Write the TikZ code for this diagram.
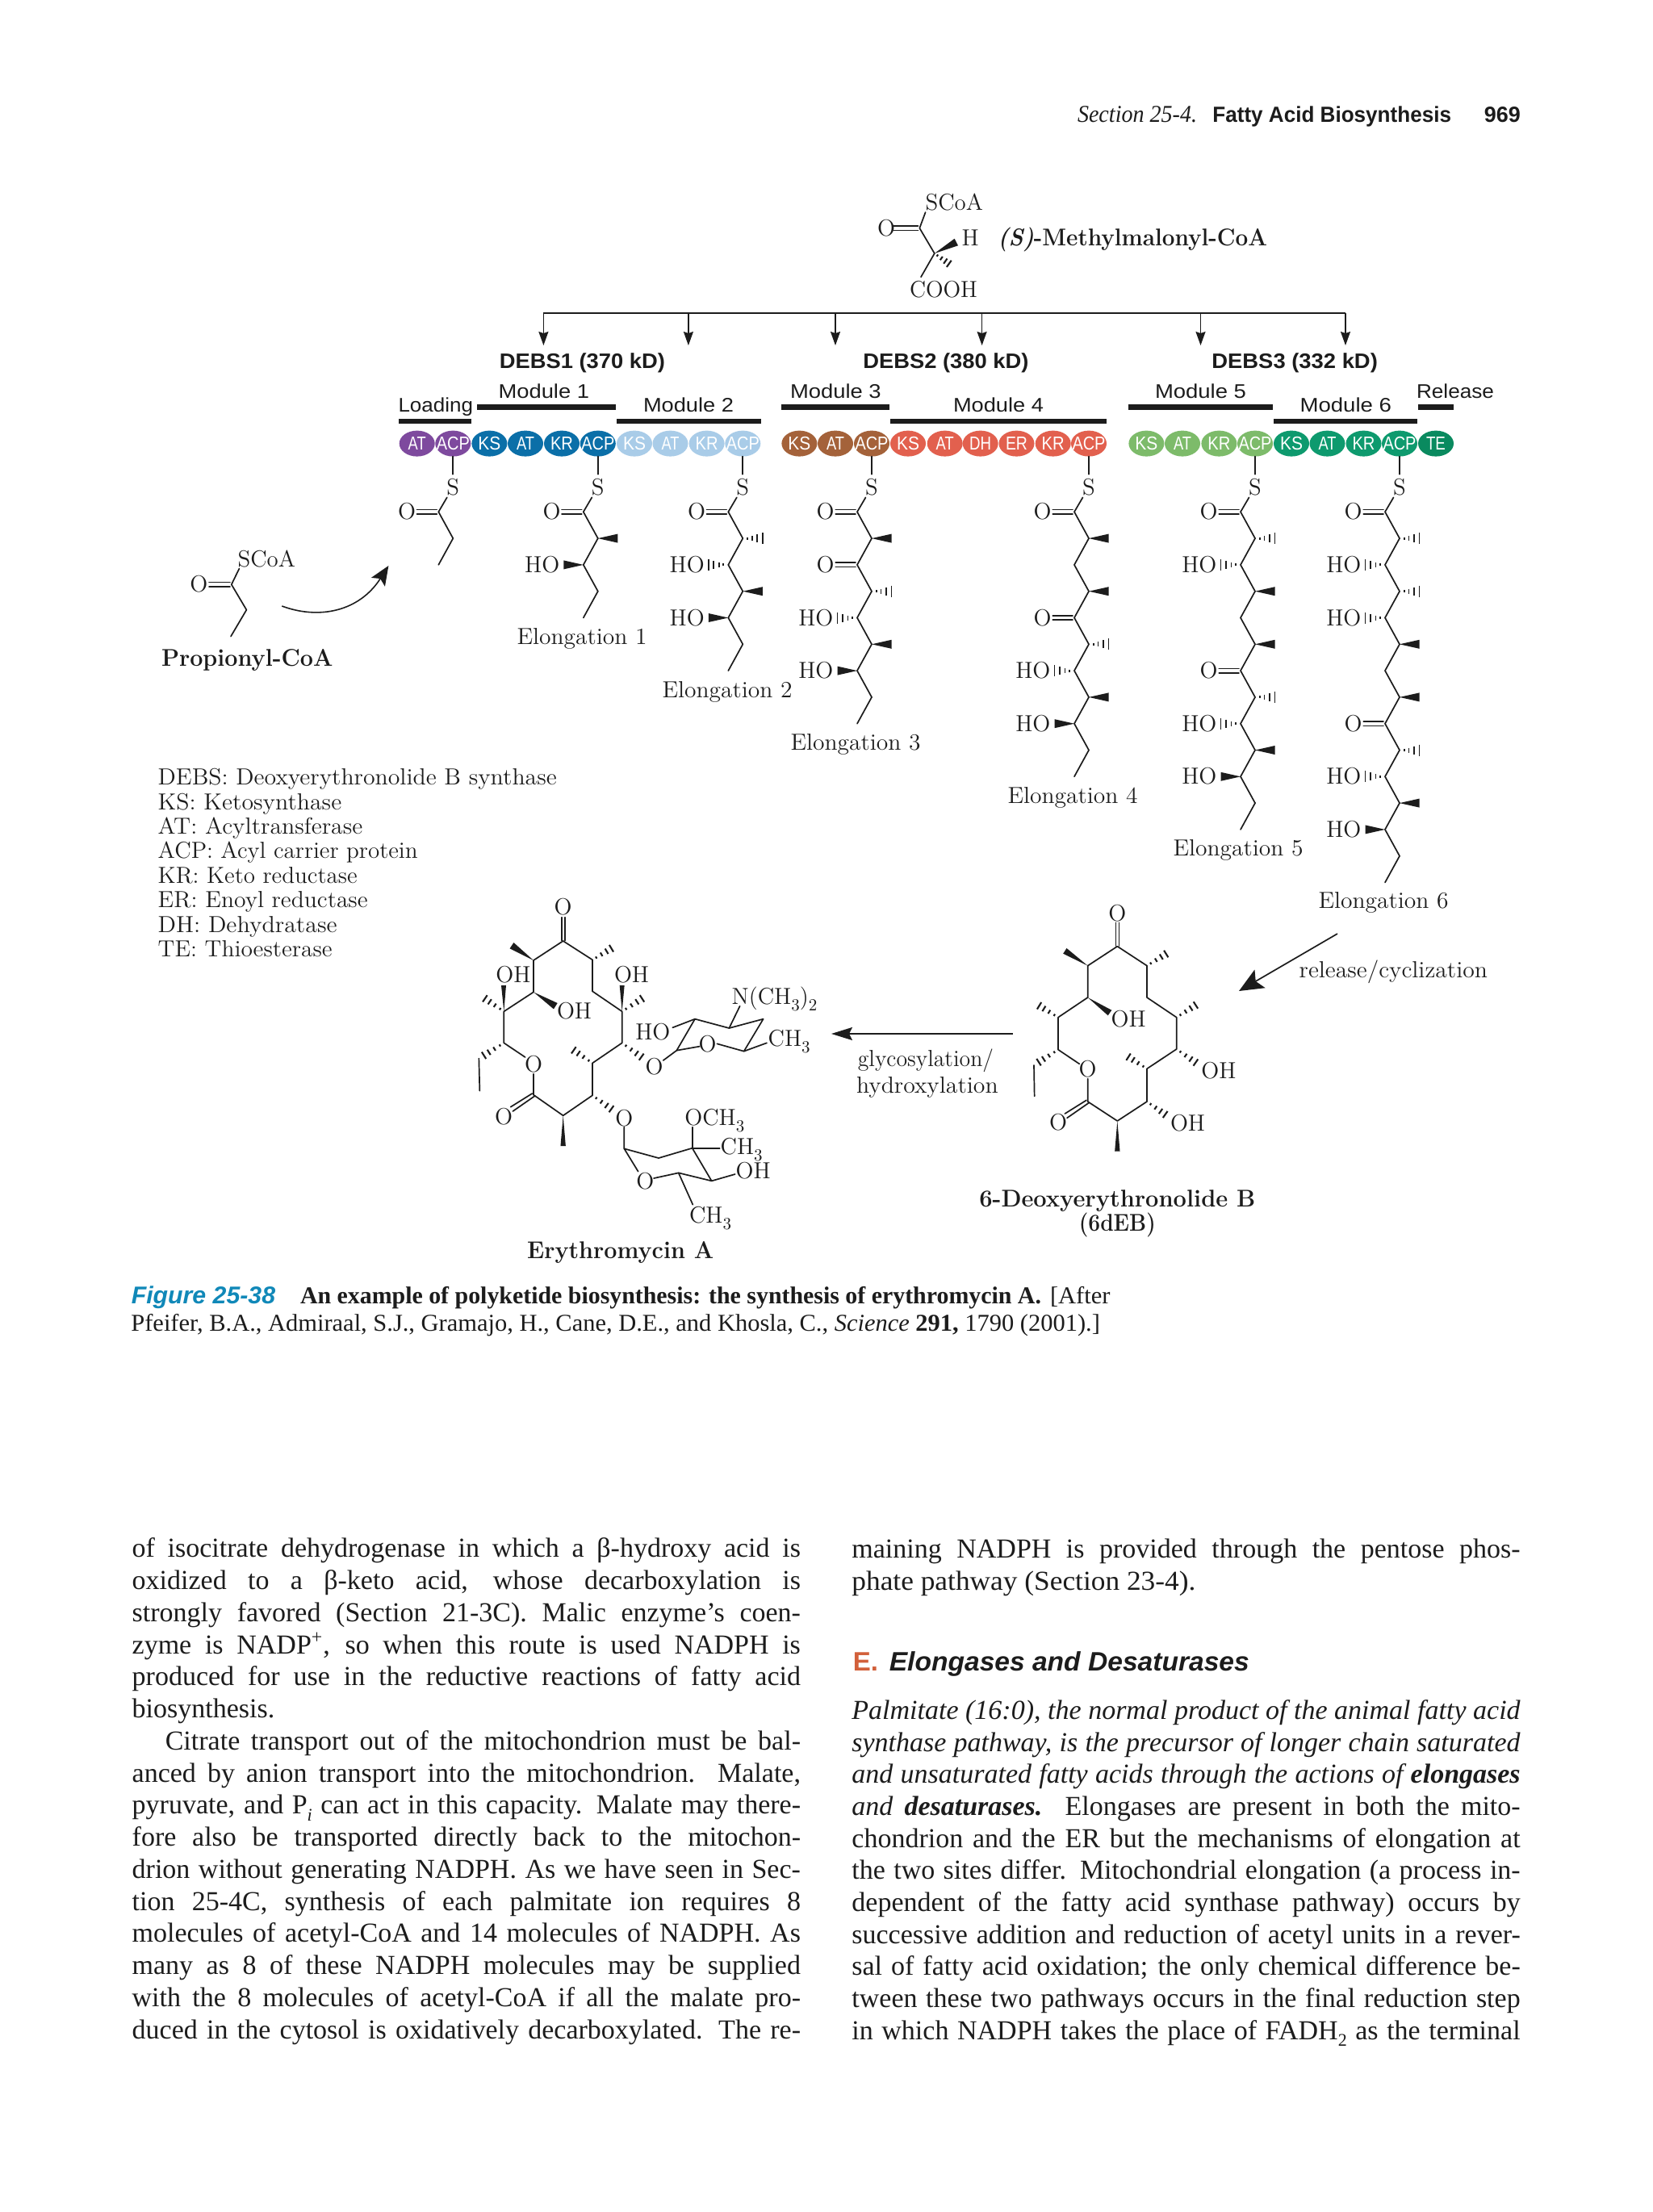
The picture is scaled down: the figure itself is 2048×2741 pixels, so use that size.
\documentclass[tikz,border=0pt]{standalone}
\usepackage{fontspec}
\usepackage{graphicx}
\usetikzlibrary{arrows.meta,calc,shapes.geometric}
\newfontfamily\bodyf{Liberation Serif}
\newfontfamily\sansf{Liberation Sans}
\definecolor{ink}{HTML}{1C1C1C}
\definecolor{pur}{HTML}{7E4A9E}
\definecolor{dblue}{HTML}{0B6FA8}
\definecolor{lblue}{HTML}{A9CCE8}
\definecolor{brn}{HTML}{A4623A}
\definecolor{cor}{HTML}{E2604E}
\definecolor{lgrn}{HTML}{7DBB6A}
\definecolor{dgrn}{HTML}{0E9A6E}
\definecolor{tegrn}{HTML}{0A8A5F}
\definecolor{figblue}{HTML}{1088B8}
\definecolor{headE}{HTML}{D2603A}
\newdimen\pxu \pxu=.5pt
\newsavebox\tmpb
\newcommand\fitw[2]{\resizebox{#1\pxu}{\height}{#2}}
\newcommand\jline[2]{\sbox\tmpb{#2}\ifdim\wd\tmpb<#1\pxu\relax\hbox to #1\pxu{#2}\else\resizebox{#1\pxu}{\height}{\usebox\tmpb}\fi}
\newcommand\sbt[1]{\raisebox{-.28em}{\fontsize{10.5}{12}\selectfont #1}}
\newcommand\bfl{\fontsize{15}{18}\selectfont\bfseries}
\newcounter{tn}
% text helpers: anchor, x, y, text
\newcommand\Tx[4][base west]{\stepcounter{tn}\node[txt,anchor=#1] (t\arabic{tn}) at (#2,#3) {#4};}
\newcommand\Ts[4][base west]{\stepcounter{tn}\node[stxt,anchor=#1] (t\arabic{tn}) at (#2,#3) {#4};}
\newcommand\Lb[2]{\stepcounter{tn}\node[btxt,anchor=base west] (t\arabic{tn}) at (163.7,#1) {\jline{828.3}{#2}};}
\newcommand\Lc[2]{\stepcounter{tn}\node[btxt,anchor=base west] (t\arabic{tn}) at (1055.4,#1) {\jline{828.3}{#2}};}
% bonds
\newcommand\wedgeb[3]{\fill[ink] #1 -- ($#2!#3!90:#1$) -- ($#2!#3!-90:#1$) -- cycle;}
\newcommand\hashb[2]{\foreach \tv/\wv in {.16/.7pt,.38/1.3pt,.6/1.9pt,.8/2.5pt,1/3.1pt}{\draw[hashring] ($#1!\tv!#2!\wv!90:#2$) -- ($#1!\tv!#2!\wv!-90:#2$);}}
\newcommand\mkchain[3]{% name, X, last carbon
  \pgfmathsetmacro\xl{#2-18}
  \foreach \kk in {1,...,#3}{%
    \pgfmathsetmacro\yy{634.3+(\kk-1)*32.8}
    \pgfmathsetmacro\xx{mod(\kk,2)==1 ? \xl : #2}
    \coordinate (#1c\kk) at (\xx,\yy);}
  \node[txt,anchor=base] (#1S) at (#2,613) {S};
  \coordinate (#1b) at (#2-7.5,616.4);
  \draw[bond] (#1b) -- (#1c1);
  \pgfmathtruncatemacro\lastm{#3-1}
  \foreach \kk in {1,...,\lastm}{%
    \pgfmathtruncatemacro\nn{\kk+1}
    \draw[bond] (#1c\kk) -- (#1c\nn);}
  \bket{#1c1}
}
\newcommand\bwR[1]{\fill[ink] (#1) -- ++(24.5,-5.5) -- ++(0,11) -- cycle;}
\newcommand\bhR[1]{\foreach \dx/\hh in {6/1.5,11.5/3,18/5,24.5/7}{\draw[hashln] ([shift={(\dx,-\hh)}]#1) -- ([shift={(\dx,\hh)}]#1);}}
\newcommand\bwL[1]{\fill[ink] (#1) -- ++(-24.5,-5.5) -- ++(0,11) -- cycle;
  \stepcounter{tn}\node[txt,anchor=base east] (t\arabic{tn}) at ([shift={(-29.6,9.5)}]#1) {HO};}
\newcommand\bhL[1]{\foreach \dx/\hh in {6/1.5,11.5/3,18/5,24.5/7}{\draw[hashln] ([shift={(-\dx,-\hh)}]#1) -- ([shift={(-\dx,\hh)}]#1);}
  \stepcounter{tn}\node[txt,anchor=base east] (t\arabic{tn}) at ([shift={(-29.6,9.5)}]#1) {HO};}
\newcommand\bket[1]{\draw[bond] ([shift={(-2,-2.7)}]#1) -- ([shift={(-26.8,-2.7)}]#1);
  \draw[bond] ([shift={(-2,2.7)}]#1) -- ([shift={(-26.8,2.7)}]#1);
  \stepcounter{tn}\node[txt,anchor=base] (t\arabic{tn}) at ([shift={(-39.3,9.5)}]#1) {O};}
\newcommand\enz[4]{% name,x,colour,label
  \node[enzyme,fill=#3] (#1) at (#2,549.6) {};
  \stepcounter{tn}\node[enzlab] (t\arabic{tn}) at (#1) {#4};}
\newcommand\eAT{\fitw{22}{AT}}
\newcommand\eACP{\fitw{41}{ACP}}
\newcommand\eKS{\fitw{28}{KS}}
\newcommand\eKR{\fitw{28}{KR}}
\newcommand\eDH{\fitw{27}{DH}}
\newcommand\eER{\fitw{27}{ER}}
\newcommand\eTE{\fitw{24}{TE}}
\tikzset{
  txt/.style={inner sep=0,outer sep=0,text=ink,font=\fontsize{14.4}{16}\selectfont},
  stxt/.style={inner sep=0,outer sep=0,text=ink,font=\sansf\fontsize{12.2}{14}\selectfont},
  btxt/.style={inner sep=0,outer sep=0,text=ink,font=\bodyf\fontsize{17}{20}\selectfont},
  bond/.style={draw=ink,line width=.85pt,line cap=round,line join=round},
  hashln/.style={draw=ink,line width=.85pt},
  hashring/.style={draw=ink,line width=1.05pt},
  modbar/.style={fill=ink},
  enzyme/.style={ellipse,inner sep=0,outer sep=0,minimum width=22pt,minimum height=16pt},
  enzlab/.style={inner sep=0,outer sep=0,text=white,font=\sansf\fontsize{11.6}{13}\selectfont},
  tickarr/.style={draw=ink,line width=.8pt,-{Stealth[length=8.5pt,width=6pt,inset=1pt]}},
}
\begin{document}
\begin{tikzpicture}[x=.5pt,y=-.5pt]
\useasboundingbox (0,0) rectangle (2048,2741);
\fill[white] (0,0) rectangle (2048,2741);

% running head
\stepcounter{tn}\node[inner sep=0,anchor=base west,text=ink,font=\bodyf\itshape\fontsize{15}{16}\selectfont] (headA) at (1334.6,151.7) {\fitw{148}{Section 25-4.}};
\stepcounter{tn}\node[inner sep=0,anchor=base west,text=ink,font=\sansf\bfseries\fontsize{13.6}{16}\selectfont] (headB) at (1502,151.7) {\fitw{295.6}{Fatty Acid Biosynthesis}};
\stepcounter{tn}\node[inner sep=0,anchor=base west,text=ink,font=\sansf\bfseries\fontsize{13.6}{16}\selectfont] (headC) at (1838.5,151.7) {\fitw{45}{969}};

% methylmalonyl-CoA
\coordinate (mmC) at (1139.3,282.7);
\coordinate (mmX) at (1157.8,314);
\Tx{1146.6}{260}{\fitw{71.4}{SCoA}}
\Tx[base]{1098}{292.5}{O}
\draw[bond] (1107,280) -- (1137.5,280);
\draw[bond] (1107,285.4) -- (1137.5,285.4);
\draw[bond] (1146.6,263) -- (mmC) -- (mmX) -- (1141,343.3);
\wedgeb{(mmX)}{(1184.8,300)}{2.4pt}
\hashb{(mmX)}{(1180.3,330)}
\Tx{1191.5}{304}{H}
\Tx{1127}{368}{\fitw{84}{COOH}}
\stepcounter{tn}\node[txt,anchor=base west] (mmName) at (1236.4,304) {\fitw{333.6}{\bfl\textit{(S)}-Methylmalonyl-CoA}};

% distribution arrows
\coordinate (hL) at (673.4,388);
\coordinate (hR) at (1667,388);
\draw[draw=ink,line width=.8pt] (hL) -- (hR);
\foreach \xa in {673.4,852.9,1035,1216.6,1487.5,1667}{\draw[tickarr] (\xa,388) -- (\xa,428);}

% DEBS titles
\stepcounter{tn}\node[inner sep=0,anchor=base west,text=ink,font=\sansf\bfseries\fontsize{13}{15}\selectfont] (debsA) at (618.5,456.4) {\fitw{205}{DEBS1 (370 kD)}};
\stepcounter{tn}\node[inner sep=0,anchor=base west,text=ink,font=\sansf\bfseries\fontsize{13}{15}\selectfont] (debsB) at (1069,456.4) {\fitw{205}{DEBS2 (380 kD)}};
\stepcounter{tn}\node[inner sep=0,anchor=base west,text=ink,font=\sansf\bfseries\fontsize{13}{15}\selectfont] (debsC) at (1501,456.4) {\fitw{205.5}{DEBS3 (332 kD)}};

% module labels and bars
\Ts{493.5}{510}{\fitw{92.5}{Loading}}
\Ts{617.6}{493}{\fitw{112.4}{Module 1}}
\Ts{797}{510}{\fitw{112}{Module 2}}
\Ts{979}{493}{\fitw{112.7}{Module 3}}
\Ts{1181}{510}{\fitw{112}{Module 4}}
\Ts{1431}{493}{\fitw{113}{Module 5}}
\Ts{1610.5}{510}{\fitw{113.5}{Module 6}}
\Ts{1755}{493}{\fitw{96}{Release}}
\fill[modbar] (494,518.6) rectangle (583.7,525);
\fill[modbar] (590.8,501.4) rectangle (763,507.5);
\fill[modbar] (764,518.6) rectangle (942.6,525);
\fill[modbar] (968,501.4) rectangle (1102.4,507.5);
\fill[modbar] (1103,518.6) rectangle (1371,525);
\fill[modbar] (1398,501.4) rectangle (1577,507.5);
\fill[modbar] (1577.5,518.6) rectangle (1756,525);
\fill[modbar] (1757,501.4) rectangle (1801,507.5);

% enzyme domains
\enz{e1}{516.7}{pur}{\eAT}
\enz{e2}{561.3}{pur}{\eACP}
\enz{e3}{606.4}{dblue}{\eKS}
\enz{e4}{651}{dblue}{\eAT}
\enz{e5}{696}{dblue}{\eKR}
\enz{e6}{740.8}{dblue}{\eACP}
\enz{e7}{786}{lblue}{\eKS}
\enz{e8}{830.5}{lblue}{\eAT}
\enz{e9}{875.6}{lblue}{\eKR}
\enz{e10}{920.3}{lblue}{\eACP}
\enz{e11}{990.4}{brn}{\eKS}
\enz{e12}{1035}{brn}{\eAT}
\enz{e13}{1080}{brn}{\eACP}
\enz{e14}{1125}{cor}{\eKS}
\enz{e15}{1170.7}{cor}{\eAT}
\enz{e16}{1214.7}{cor}{\eDH}
\enz{e17}{1259.5}{cor}{\eER}
\enz{e18}{1304.7}{cor}{\eKR}
\enz{e19}{1349}{cor}{\eACP}
\enz{e20}{1420.4}{lgrn}{\eKS}
\enz{e21}{1465}{lgrn}{\eAT}
\enz{e22}{1510.4}{lgrn}{\eKR}
\enz{e23}{1555}{lgrn}{\eACP}
\enz{e24}{1600}{dgrn}{\eKS}
\enz{e25}{1644.5}{dgrn}{\eAT}
\enz{e26}{1689.5}{dgrn}{\eKR}
\enz{e27}{1734}{dgrn}{\eACP}
\enz{e28}{1779}{tegrn}{\eTE}

% chains
\mkchain{a}{561.3}{3}
\draw[bond,shorten >=2.5pt] (e2.south) -- (aS.north);
\mkchain{b}{740.8}{5}
\draw[bond,shorten >=2.5pt] (e6.south) -- (bS.north);
\bwR{bc2}\bwL{bc3}
\mkchain{c}{920.3}{7}
\draw[bond,shorten >=2.5pt] (e10.south) -- (cS.north);
\bhR{cc2}\bhL{cc3}\bwR{cc4}\bwL{cc5}
\mkchain{d}{1080}{9}
\draw[bond,shorten >=2.5pt] (e13.south) -- (dS.north);
\bwR{dc2}\bket{dc3}\bhR{dc4}\bhL{dc5}\bwR{dc6}\bwL{dc7}
\mkchain{f}{1349}{11}
\draw[bond,shorten >=2.5pt] (e19.south) -- (fS.north);
\bwR{fc2}\bwR{fc4}\bket{fc5}\bhR{fc6}\bhL{fc7}\bwR{fc8}\bwL{fc9}
\mkchain{g}{1555}{13}
\draw[bond,shorten >=2.5pt] (e23.south) -- (gS.north);
\bhR{gc2}\bhL{gc3}\bwR{gc4}\bwR{gc6}\bket{gc7}\bhR{gc8}\bhL{gc9}\bwR{gc10}\bwL{gc11}
\mkchain{h}{1734}{15}
\draw[bond,shorten >=2.5pt] (e27.south) -- (hS.north);
\bhR{hc2}\bhL{hc3}\bhR{hc4}\bhL{hc5}\bwR{hc6}\bwR{hc8}\bket{hc9}\bhR{hc10}\bhL{hc11}\bwR{hc12}\bwL{hc13}

% elongation labels
\Tx[base]{721}{798.6}{\fitw{161}{Elongation 1}}
\Tx[base]{901}{864}{\fitw{161}{Elongation 2}}
\Tx[base]{1060}{929.5}{\fitw{161}{Elongation 3}}
\Tx[base]{1329}{995}{\fitw{161}{Elongation 4}}
\Tx[base]{1534}{1060.5}{\fitw{161}{Elongation 5}}
\Tx[base]{1714}{1125.5}{\fitw{161}{Elongation 6}}

% propionyl-CoA
\coordinate (prC) at (286.8,724.3);
\Tx{294.6}{702}{\fitw{71.4}{SCoA}}
\Tx[base]{246.4}{733.5}{O}
\draw[bond] (259,721.6) -- (285,721.6);
\draw[bond] (259,727) -- (285,727);
\draw[bond] (296.4,704.6) -- (prC) -- (305.4,755.7) -- (286,788.6);
\stepcounter{tn}\node[txt,anchor=base west] (prName) at (200,825) {\fitw{212.5}{\bfl Propionyl-CoA}};
\coordinate (crvA) at (349.3,751);
\coordinate (crvB) at (481.4,701);
\draw[draw=ink,line width=.8pt,-{Stealth[length=12pt,width=10pt,inset=2.5pt]}] (crvA) .. controls (395,768) and (445,758) .. (crvB);

% legend
\Tx{195.7}{972.5}{\fitw{494}{DEBS: Deoxyerythronolide B synthase}}
\Tx{195.7}{1003}{\fitw{227.5}{KS: Ketosynthase}}
\Tx{195.7}{1033}{\fitw{253.6}{AT: Acyltransferase}}
\Tx{195.7}{1063.5}{\fitw{322}{ACP: Acyl carrier protein}}
\Tx{195.7}{1094}{\fitw{247}{KR: Keto reductase}}
\Tx{195.7}{1124.4}{\fitw{260}{ER: Enoyl reductase}}
\Tx{195.7}{1155}{\fitw{222}{DH: Dehydratase}}
\Tx{195.7}{1185}{\fitw{216}{TE: Thioesterase}}

% 6-deoxyerythronolide B
\begin{scope}[shift={(1200,1100)},x=.16667pt,y=-.16667pt]
\coordinate (da) at (553,218); \coordinate (db) at (443,290); \coordinate (dc) at (663,290);
\coordinate (dd) at (443,408); \coordinate (de) at (663,408); \coordinate (df) at (333,482);
\coordinate (dg) at (773,482); \coordinate (dh) at (333,602); \coordinate (dm) at (773,600);
\coordinate (di) at (443,795); \coordinate (dj) at (553,867); \coordinate (dk) at (663,795);
\coordinate (dl) at (663,673);
\draw[bond] (da) -- (db) -- (dd) -- (df) -- (dh) -- (412,655);
\draw[bond] (da) -- (dc) -- (de) -- (dg) -- (dm) -- (dl) -- (dk) -- (dj) -- (di) -- (443,710);
\draw[bond] (547,130) -- (547,216); \draw[bond] (559,130) -- (559,216);
\draw[bond] (438,790) -- (358,840); \draw[bond] (448,799) -- (366,856);
\draw[bond] (243,660) -- (245,775);
\wedgeb{(db)}{(358,235)}{2pt}
\wedgeb{(dd)}{(525,465)}{2pt}
\wedgeb{(dj)}{(553,980)}{1.6pt}
\hashb{(dc)}{(752,235)}
\hashb{(df)}{(245,428)}
\hashb{(dg)}{(862,425)}
\hashb{(dh)}{(243,660)}
\hashb{(dl)}{(577,618)}
\hashb{(dk)}{(748,855)}
\hashb{(dm)}{(862,662)}
\Tx[base]{553}{124}{O}
\Tx[base]{443}{702}{O}
\Tx[base]{333}{902}{O}
\Tx{530}{517}{OH}
\Tx{865}{710}{OH}
\Tx{750}{903}{OH}
\stepcounter{tn}\node[txt,anchor=base] (dName) at (553,1185) {\fitw{342}{\bfl 6-Deoxyerythronolide B}};
\stepcounter{tn}\node[txt,anchor=base] (dNameB) at (553,1275) {\fitw{95}{\bfl (6dEB)}};
\end{scope}

% reaction arrows
\coordinate (relA) at (1657,1157);
\coordinate (relB) at (1535,1228);
\draw[draw=ink,line width=.85pt,-{Stealth[length=15pt,width=13pt,inset=3pt]}] (relA) -- (relB);
\Tx{1609.7}{1211.7}{\fitw{233.3}{release/cyclization}}
\coordinate (glyA) at (1254.8,1281);
\coordinate (glyB) at (1030,1281);
\draw[draw=ink,line width=.95pt,-{Stealth[length=13pt,width=8pt,inset=2pt]}] (glyA) -- (glyB);
\Tx{1062.8}{1321.7}{\fitw{168.2}{glycosylation/}}
\Tx{1061}{1354}{\fitw{175.7}{hydroxylation}}

% erythromycin A
\begin{scope}[shift={(560,1090)},x=.16667pt,y=-.16667pt]
\coordinate (ea) at (413,228); \coordinate (eb) at (303,300); \coordinate (ec) at (522,298);
\coordinate (ed) at (303,418); \coordinate (ee) at (522,415); \coordinate (ef) at (193,490);
\coordinate (eg) at (632,490); \coordinate (eh) at (193,607); \coordinate (em) at (632,607);
\coordinate (ei) at (303,800); \coordinate (ej) at (413,877); \coordinate (ek) at (522,802);
\coordinate (el) at (522,682);
\draw[bond] (ea) -- (eb) -- (ed) -- (ef) -- (eh) -- (272,660);
\draw[bond] (ea) -- (ec) -- (ee) -- (eg) -- (em) -- (el) -- (ek) -- (ej) -- (ei) -- (303,722);
\draw[bond] (407,140) -- (407,226); \draw[bond] (419,140) -- (419,226);
\draw[bond] (298,795) -- (218,845); \draw[bond] (308,804) -- (226,861);
\draw[bond] (100,665) -- (103,785);
\wedgeb{(eb)}{(222,245)}{2.2pt}
\wedgeb{(ed)}{(385,470)}{2.2pt}
\wedgeb{(ef)}{(192,393)}{1.5pt}
\wedgeb{(eg)}{(632,393)}{1.5pt}
\wedgeb{(ej)}{(413,990)}{1.6pt}
\hashb{(ec)}{(610,245)}
\hashb{(ef)}{(105,430)}
\hashb{(eg)}{(725,430)}
\hashb{(eh)}{(100,665)}
\hashb{(el)}{(435,622)}
\hashb{(ek)}{(610,865)}
\hashb{(em)}{(722,672)}
\Tx[base]{413}{131}{O}
\Tx[base]{303}{714}{O}
\Tx[base]{192}{909}{O}
\Tx[base]{640}{916}{O}
\Tx[base]{752}{724}{O}
\Tx[base]{950}{639}{O}
\Tx[base]{718}{1149}{O}
\Tx{163}{382}{OH}
\Tx{603}{382}{OH}
\Tx{390}{518}{OH}
\Tx{682}{595}{HO}
\Tx{1040}{462}{N(CH\sbt{3})\sbt{2}}
\Tx{1175}{620}{CH\sbt{3}}
\Tx{865}{912}{OCH\sbt{3}}
\Tx{998}{1020}{CH\sbt{3}}
\Tx{1055}{1110}{OH}
\Tx{882}{1275}{CH\sbt{3}}
% desosamine
\coordinate (sa) at (835,635); \coordinate (sb) at (903,518); \coordinate (sc) at (1030,552);
\coordinate (sd) at (1157,518); \coordinate (se) at (1085,638);
\draw[bond] (785,672) -- (sa) -- (920,620);
\draw[bond] (sa) -- (sb) -- (sc) -- (sd) -- (se) -- (985,610);
\draw[bond] (sb) -- (820,550);
\draw[bond] (sc) -- (1070,470);
\draw[bond] (se) -- (1170,607);
% cladinose
\coordinate (ca) at (640,1000); \coordinate (cb) at (768,1035); \coordinate (cc) at (893,998);
\coordinate (cd) at (965,1120); \coordinate (ce) at (842,1090);
\draw[bond] (640,920) -- (ca) -- (cb) -- (cc) -- (cd) -- (ce) -- (750,1110);
\draw[bond] (ca) -- (692,1085);
\draw[bond] (cc) -- (893,920);
\draw[bond] (cc) -- (995,998);
\draw[bond] (cd) -- (1052,1095);
\draw[bond] (ce) -- (895,1208);
\stepcounter{tn}\node[txt,anchor=base] (eName) at (626,1408) {\fitw{231}{\bfl Erythromycin A}};
\end{scope}

% caption
\stepcounter{tn}\node[inner sep=0,anchor=base west,text=figblue,font=\sansf\bfseries\itshape\fontsize{15}{18}\selectfont] (capA) at (162.4,1615) {\fitw{178.3}{Figure 25-38}};
\stepcounter{tn}\node[btxt,anchor=base west,font=\bodyf\bfseries\fontsize{15}{18}\selectfont] (capB) at (372,1615) {\fitw{918}{An example of polyketide biosynthesis: the synthesis of erythromycin A.}};
\stepcounter{tn}\node[btxt,anchor=base west,font=\bodyf\fontsize{15}{18}\selectfont] (capC) at (1301,1615) {\fitw{74.6}{[After}};
\stepcounter{tn}\node[btxt,anchor=base west,font=\bodyf\fontsize{15}{18}\selectfont] (capD) at (162.4,1649) {\fitw{1200.6}{Pfeifer, B.A., Admiraal, S.J., Gramajo, H., Cane, D.E., and Khosla, C., \textit{Science} \textbf{291,} 1790 (2001).]}};

% left column
\Lb{1929.7}{of isocitrate dehydrogenase in which a β-hydroxy acid is}
\Lb{1969.5}{oxidized to a β-keto acid, whose decarboxylation is}
\Lb{2009.2}{strongly favored (Section 21-3C). Malic enzyme’s coen-}
\Lb{2049}{zyme is NADP\textsuperscript{+}, so when this route is used NADPH is}
\Lb{2088.7}{produced for use in the reductive reactions of fatty acid}
\stepcounter{tn}\node[btxt,anchor=base west] (t\arabic{tn}) at (163.7,2128.5) {biosynthesis.};
\stepcounter{tn}\node[btxt,anchor=base west] (t\arabic{tn}) at (204.8,2168.2) {\jline{787.2}{Citrate transport out of the mitochondrion must be bal-}};
\Lb{2208}{anced by anion transport into the mitochondrion. Malate,}
\Lb{2247.7}{pyruvate, and P\raisebox{-.25em}{\fontsize{11}{12}\selectfont\itshape i} can act in this capacity. Malate may there-}
\Lb{2287.5}{fore also be transported directly back to the mitochon-}
\Lb{2327.2}{drion without generating NADPH. As we have seen in Sec-}
\Lb{2367}{tion 25-4C, synthesis of each palmitate ion requires 8}
\Lb{2406.7}{molecules of acetyl-CoA and 14 molecules of NADPH. As}
\Lb{2446.5}{many as 8 of these NADPH molecules may be supplied}
\Lb{2486.2}{with the 8 molecules of acetyl-CoA if all the malate pro-}
\Lb{2526}{duced in the cytosol is oxidatively decarboxylated. The re-}

% right column
\Lc{1930.5}{maining NADPH is provided through the pentose phos-}
\stepcounter{tn}\node[btxt,anchor=base west] (t\arabic{tn}) at (1055.4,1970) {\resizebox{426\pxu}{\height}{phate pathway (Section 23-4).}};
\stepcounter{tn}\node[inner sep=0,anchor=base west,text=headE,font=\sansf\bfseries\fontsize{16.5}{20}\selectfont] (secE) at (1056.5,2070) {E.};
\stepcounter{tn}\node[inner sep=0,anchor=base west,text=ink,font=\sansf\bfseries\itshape\fontsize{16.5}{20}\selectfont] (secT) at (1101.4,2070) {\fitw{446}{Elongases and Desaturases}};
\Lc{2130.4}{\textit{Palmitate (16:0), the normal product of the animal fatty acid}}
\Lc{2170}{\textit{synthase pathway, is the precursor of longer chain saturated}}
\Lc{2209.7}{\textit{and unsaturated fatty acids through the actions of \textbf{elongases}}}
\Lc{2249.4}{\textit{and \textbf{desaturases.}} Elongases are present in both the mito-}
\Lc{2289}{chondrion and the ER but the mechanisms of elongation at}
\Lc{2328.7}{the two sites differ. Mitochondrial elongation (a process in-}
\Lc{2368.4}{dependent of the fatty acid synthase pathway) occurs by}
\Lc{2408}{successive addition and reduction of acetyl units in a rever-}
\Lc{2447.7}{sal of fatty acid oxidation; the only chemical difference be-}
\Lc{2487.4}{tween these two pathways occurs in the final reduction step}
\Lc{2527}{in which NADPH takes the place of FADH\raisebox{-.25em}{\fontsize{11}{12}\selectfont 2} as the terminal}
\end{tikzpicture}
\end{document}
